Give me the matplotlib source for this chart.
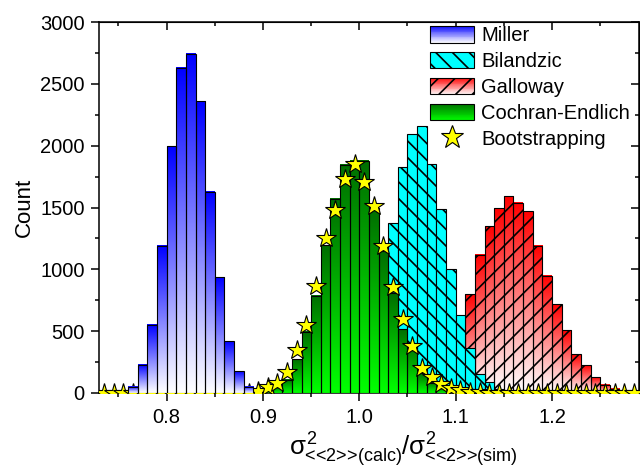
import numpy as np
import matplotlib
matplotlib.use('Agg')
import matplotlib.pyplot as plt
from matplotlib.colors import LinearSegmentedColormap, to_rgb
from matplotlib.patches import Patch, Rectangle
from matplotlib.lines import Line2D
from matplotlib.legend_handler import HandlerBase
from matplotlib.ticker import MultipleLocator, FormatStrFormatter

plt.rcParams['font.family'] = 'Liberation Sans'
plt.rcParams['mathtext.fontset'] = 'custom'
plt.rcParams['mathtext.rm'] = 'Liberation Sans'
plt.rcParams['mathtext.it'] = 'Liberation Sans'
plt.rcParams['hatch.linewidth'] = 1.2

# histogram bin centers (bin width 0.01) and counts
miller_x = np.round(np.arange(0.765, 0.886, 0.01), 3)
miller_y = [49, 229, 553, 1192, 1996, 2630, 2743, 2360, 1627, 936, 418, 175, 49]

bilandzic_x = np.round(np.arange(0.965, 1.156, 0.01), 3)
bilandzic_y = [10, 30, 80, 170, 330, 550, 850, 1374, 1827, 2096, 2161, 1854,
               1490, 1005, 633, 360, 155, 90, 35, 12]

galloway_x = np.round(np.arange(1.055, 1.286, 0.01), 3)
galloway_y = [15, 40, 90, 180, 320, 520, 798, 1118, 1350, 1495, 1590, 1538,
              1468, 1191, 948, 718, 505, 314, 226, 126, 67, 35, 15, 6]

cochran_x = np.round(np.arange(0.895, 1.096, 0.01), 3)
cochran_y = [8, 20, 45, 108, 272, 495, 785, 1195, 1570, 1845, 1880, 1880,
             1500, 1145, 808, 517, 390, 161, 81, 40, 15]

boot_x = np.round(np.arange(0.735, 1.286, 0.01), 3)
boot_y = [0] * 15 + [2, 12, 48, 81, 167, 350, 547, 867, 1253, 1476, 1730, 1854,
                     1703, 1509, 1185, 855, 598, 382, 202, 126, 73, 40, 20, 10, 5] + [0] * 16

labels = ['Miller', 'Bilandzic', 'Galloway', 'Cochran-Endlich', 'Bootstrapping']
width = 0.01


def grad_bars(ax, xs, ys, top, bottom, z, hatch=None):
    cmap = LinearSegmentedColormap.from_list('g', [bottom, top])
    grad = np.linspace(0, 1, 128).reshape(-1, 1)
    for x, h in zip(xs, ys):
        ax.imshow(grad, extent=[x - width / 2, x + width / 2, 0, h], origin='lower',
                  aspect='auto', cmap=cmap, zorder=z, interpolation='bilinear')
    ax.bar(xs, ys, width=width, facecolor='none', edgecolor='black',
           linewidth=0.8, hatch=hatch, zorder=z + 0.1)


class GradHandler(HandlerBase):
    def __init__(self, top, bottom, hatch=None):
        super().__init__()
        self.top = np.array(to_rgb(top))
        self.bottom = np.array(to_rgb(bottom))
        self.hatch = hatch

    def create_artists(self, legend, orig_handle, xdescent, ydescent, width, height, fontsize, trans):
        arts = []
        n = 20
        for i in range(n):
            t = (i + 0.5) / n
            c = self.bottom + (self.top - self.bottom) * t
            arts.append(Rectangle((-xdescent, -ydescent + height * i / n), width, height / n * 1.05,
                                  facecolor=c, edgecolor='none', transform=trans))
        arts.append(Rectangle((-xdescent, -ydescent), width, height, facecolor='none',
                              edgecolor='black', hatch=self.hatch, linewidth=0.8, transform=trans))
        return arts


fig, ax = plt.subplots(figsize=(6.4, 4.7), dpi=100)
fig.subplots_adjust(left=0.155, right=0.998, top=0.953, bottom=0.164)

grad_bars(ax, galloway_x, galloway_y, '#ff0000', '#ffffff', 1, hatch='//')
ax.bar(bilandzic_x, bilandzic_y, width=width, color='#00ffff', edgecolor='black',
       linewidth=0.8, hatch='\\\\', zorder=2)
grad_bars(ax, cochran_x, cochran_y, '#006e00', '#00ff00', 3)
ax.plot(boot_x, boot_y, linestyle='none', marker='*', markersize=15,
        markerfacecolor='#ffff00', markeredgecolor='black', markeredgewidth=0.8, zorder=4)
grad_bars(ax, miller_x, miller_y, '#0000ff', '#ffffff', 5)

ax.set_xlim(0.73, 1.29)
ax.set_ylim(0, 3000)
ax.xaxis.set_major_locator(MultipleLocator(0.1))
ax.xaxis.set_minor_locator(MultipleLocator(0.05))
ax.yaxis.set_major_locator(MultipleLocator(500))
ax.yaxis.set_minor_locator(MultipleLocator(250))
ax.xaxis.set_major_formatter(FormatStrFormatter('%.1f'))
ax.tick_params(which='major', direction='out', length=5.5, width=1.1, labelsize=14.5, pad=5)
ax.tick_params(which='minor', direction='out', length=3, width=1.1)
for s in ax.spines.values():
    s.set_linewidth(1.1)

top = ax.secondary_xaxis('top')
top.xaxis.set_major_locator(MultipleLocator(0.1))
top.xaxis.set_minor_locator(MultipleLocator(0.05))
top.tick_params(which='both', direction='in', labeltop=False, width=1.1)
top.tick_params(which='major', length=5.5)
top.tick_params(which='minor', length=3)
right = ax.secondary_yaxis('right')
right.yaxis.set_major_locator(MultipleLocator(500))
right.yaxis.set_minor_locator(MultipleLocator(250))
right.tick_params(which='both', direction='in', labelright=False, width=1.1)
right.tick_params(which='major', length=5.5)
right.tick_params(which='minor', length=3)

ax.set_ylabel('Count', fontsize=16)
ax.set_xlabel(r'$σ^2_{\text{<<2>>(calc)}}/σ^2_{\text{<<2>>(sim)}}$', fontsize=18.5)
ax.xaxis.set_label_coords(0.563, -0.1)

handles = [Patch(), Patch(), Patch(), Patch(),
           Line2D([], [], linestyle='none', marker='*', markersize=17,
                  markerfacecolor='#ffff00', markeredgecolor='black', markeredgewidth=0.8)]
hmap = {handles[0]: GradHandler('#0000ff', '#ffffff'),
        handles[1]: GradHandler('#00ffff', '#00ffff', hatch='\\\\'),
        handles[2]: GradHandler('#ff0000', '#ffffff', hatch='//'),
        handles[3]: GradHandler('#006e00', '#00ff00')}
ax.legend(handles, labels, handler_map=hmap, loc='upper left', bbox_to_anchor=(0.613, 0.99),
          frameon=False, fontsize=14.5, borderpad=0, borderaxespad=0,
          handlelength=2.2, handleheight=0.9, handletextpad=0.35, labelspacing=0.33)

fig.savefig('out.png', dpi=100)
